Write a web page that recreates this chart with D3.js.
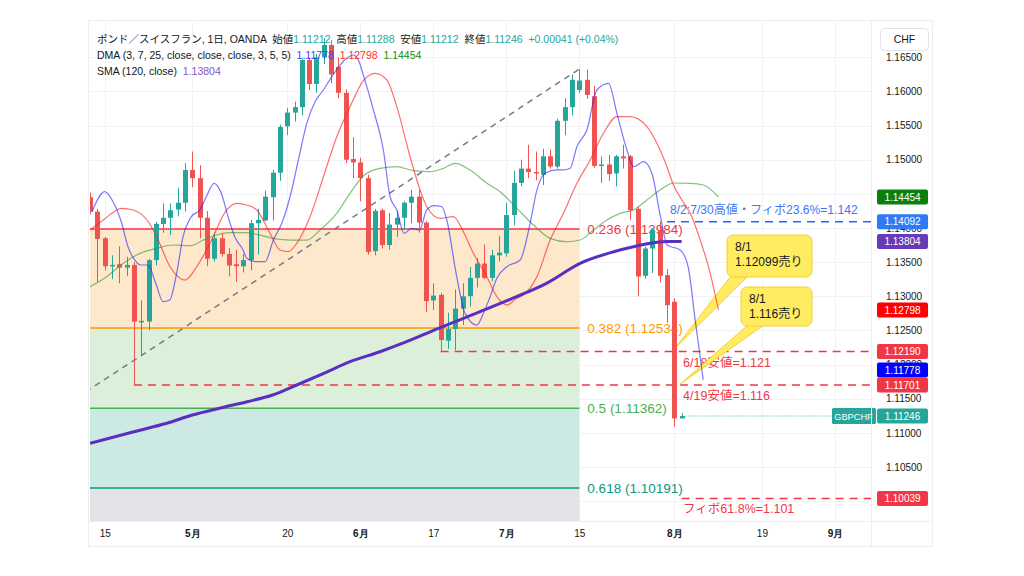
<!DOCTYPE html>
<html><head><meta charset="utf-8">
<script src="https://cdn.jsdelivr.net/npm/d3@7"></script>
<style>
html,body{margin:0;padding:0;background:#fff;}
svg{display:block;font-family:"Liberation Sans","Noto Sans CJK JP",sans-serif;}
text{white-space:pre;}
</style></head><body>
<svg id="c" width="1024" height="576"></svg>
<script>
// ---------------- DATA ----------------
const firstBar = -2; // bar index of first candle (0 = Apr 15)
const opens  = [1.1445,1.1424,1.1385,1.1344,1.1347,1.1342,1.1346,1.1262,1.1263,1.1353,1.1406,1.1415,1.1427,1.1437,1.1485,1.1473,1.1415,1.1355,1.1385,1.1362,1.1347,1.1344,1.1353,1.1407,1.1411,1.1445,1.1481,1.1549,1.1569,1.1577,1.1646,1.1611,1.1650,1.1668,1.1636,1.1598,1.1501,1.1496,1.1473,1.1366,1.1426,1.1375,1.1405,1.1415,1.1437,1.1446,1.1408,1.1294,1.1302,1.1235,1.1252,1.1282,1.1300,1.1327,1.1348,1.1327,1.1360,1.1363,1.1419,1.1466,1.1487,1.1482,1.1478,1.1505,1.1490,1.1557,1.1577,1.1602,1.1617,1.1593,1.1491,1.1493,1.1480,1.1505,1.1505,1.1428,1.1330,1.1370,1.1397,1.1331,1.1292,1.11212];
const highs  = [1.1452,1.1428,1.1387,1.1360,1.1373,1.1358,1.1350,1.1294,1.1355,1.1409,1.1436,1.1436,1.1459,1.1495,1.1512,1.1492,1.1425,1.1393,1.1392,1.1371,1.1368,1.1362,1.1412,1.1428,1.1455,1.1485,1.1551,1.1576,1.1585,1.1648,1.1649,1.1655,1.1678,1.1675,1.1650,1.1603,1.1533,1.1503,1.1478,1.1428,1.1428,1.1422,1.1425,1.1439,1.1456,1.1456,1.1410,1.1319,1.1305,1.1276,1.1310,1.1319,1.1343,1.1356,1.1376,1.1368,1.1388,1.1437,1.1484,1.1500,1.1522,1.1512,1.1516,1.1515,1.1560,1.1590,1.1625,1.16328,1.1632,1.1608,1.1505,1.1507,1.1507,1.1522,1.1507,1.1431,1.1373,1.1400,1.14092,1.1340,1.1297,1.11288];
const lows   = [1.1420,1.1321,1.1338,1.1325,1.1319,1.1330,1.11701,1.1214,1.1250,1.1345,1.1393,1.1390,1.1417,1.1424,1.1460,1.1385,1.1344,1.1351,1.1358,1.1329,1.1321,1.1335,1.1338,1.1361,1.1410,1.1411,1.1469,1.1536,1.1556,1.1565,1.1602,1.1598,1.1640,1.1612,1.1590,1.1495,1.1473,1.1439,1.1361,1.1360,1.1370,1.1368,1.1387,1.1397,1.1407,1.1393,1.1277,1.1280,1.1219,1.1223,1.1221,1.1258,1.1285,1.1313,1.1325,1.1322,1.1351,1.1358,1.1404,1.1461,1.1473,1.1470,1.1463,1.1487,1.1487,1.1536,1.1565,1.1598,1.1589,1.1488,1.1466,1.1469,1.1461,1.1487,1.1412,1.1300,1.1326,1.1334,1.1320,1.1261,1.1109,1.11212];
const closes = [1.1424,1.1384,1.1344,1.1346,1.1342,1.1346,1.1263,1.1264,1.1353,1.1406,1.1415,1.1426,1.1437,1.1485,1.1473,1.1415,1.1355,1.1385,1.1362,1.1345,1.1344,1.1353,1.1407,1.1412,1.1446,1.1481,1.1548,1.1569,1.1577,1.1646,1.1611,1.1650,1.1668,1.1625,1.1598,1.1500,1.1496,1.1473,1.1365,1.1425,1.1375,1.1405,1.1415,1.1437,1.1446,1.1408,1.1293,1.1301,1.1236,1.1252,1.1282,1.1300,1.1327,1.1348,1.1327,1.1360,1.1364,1.1419,1.1466,1.1487,1.1482,1.1480,1.1505,1.1490,1.1557,1.1577,1.1617,1.1616,1.1595,1.1491,1.1493,1.1479,1.1505,1.1502,1.1426,1.1329,1.1370,1.1397,1.1330,1.1287,1.11212,1.11246];

// DMA 3 (displaced 3) – blue
const dmaBlueIdx = [-1.74,0,1.14,2.27,3.19,4.11,5.01,5.93,7.07,7.99,8.9,9.81,10.73,11.86,13.01,13.92,14.97,15.97,16.89,17.81,18.95,19.45,20.59,21.96,23.1,24.25,25.38,26.52,27.67,28.81,29.95,31.1,32.23,33.15,34.05,34.74,35.42,36.8,38.16,39.08,40,41,42.05,43.1,44.1,45.1,46.16,46.85,48.12,49.36,50.96,51.86,52.78,53.7,55.07,56.89,58.26,59.18,60.32,61.92,62.82,63.74,64.66,66.03,67.4,68.99,70.14,71.51,72.42,73.78,74.93,76.07,77.03,78.81,79.9,80.86,81.96];
const dmaBlueVal = [1.14239,1.14532,1.14385,1.14092,1.13726,1.13531,1.13458,1.13458,1.13165,1.12921,1.12945,1.13312,1.13873,1.14166,1.14264,1.14458,1.14655,1.14508,1.14166,1.13873,1.13678,1.13556,1.13507,1.13507,1.13824,1.14069,1.14458,1.14996,1.15533,1.1585,1.16021,1.16216,1.16387,1.16485,1.16534,1.1646,1.1624,1.15728,1.15142,1.14458,1.14264,1.13922,1.13996,1.13971,1.14264,1.14327,1.14312,1.14117,1.13337,1.1275,1.12579,1.1275,1.12994,1.13264,1.13433,1.13531,1.14069,1.14556,1.14801,1.1485,1.1485,1.14874,1.15191,1.15435,1.16021,1.16119,1.1568,1.15142,1.14898,1.14971,1.14801,1.1419,1.13751,1.13678,1.13429,1.12653,1.11778];
// DMA 7 (displaced 5) – red
const dmaRedIdx = [-2.01,-0.19,2.33,3.92,5.97,7.12,8.95,11.0,12.6,14.42,16.71,18.08,19.45,20.82,22.64,24.01,25.15,26.3,28.12,29.95,31.78,33.6,35.42,37.03,38.63,40.0,41.82,43.19,44.11,45.93,47.75,49.12,50.49,52.33,53.7,55.07,56.44,57.34,59.18,61.0,62.82,64.66,66.48,68.3,70.14,71.96,74.25,75.62,76.99,77.89,79.04,80.18,81.55,82.92,84.05];
const dmaRedVal = [1.13971,1.14117,1.14289,1.14264,1.14092,1.13873,1.13433,1.13238,1.13433,1.13776,1.14264,1.14362,1.14337,1.14264,1.13922,1.13678,1.13653,1.13776,1.14165,1.14751,1.15337,1.15777,1.16157,1.16266,1.16168,1.15777,1.15044,1.14557,1.14312,1.14142,1.14166,1.13946,1.13629,1.13287,1.12994,1.12872,1.1297,1.13019,1.13287,1.13824,1.14215,1.14655,1.14996,1.15387,1.1563,1.1563,1.15484,1.1524,1.14898,1.1463,1.1441,1.14215,1.13824,1.13337,1.12798];
// DMA 25 (displaced 5) – green
const dmaGreenIdx = [-2.01,0.27,2.55,4.84,7.12,9.4,11.68,13.51,15.34,17.16,18.99,20.82,23.1,25.38,27.67,29.49,31.78,33.6,35.42,37.71,40.0,42.27,44.56,46.38,47.99,50.04,52.33,54.15,56.44,58.71,61.0,63.29,65.11,66.93,68.77,70.59,72.41,74.25,76.07,77.89,80.18,82.0,84.05];
const dmaGreenVal = [1.1314,1.13287,1.13483,1.13629,1.13703,1.13751,1.13741,1.13824,1.13897,1.13931,1.13931,1.13908,1.13849,1.13824,1.13824,1.13971,1.14215,1.14508,1.14762,1.14874,1.14898,1.14839,1.14825,1.14874,1.14948,1.14849,1.14655,1.14532,1.14288,1.14044,1.13849,1.13799,1.13824,1.13971,1.14117,1.14215,1.14264,1.1441,1.14557,1.14659,1.14655,1.1463,1.14454];
// SMA 120 – purple
const smaIdx = [-2,4,8.5,12,16,19.5,23,26.3,30,33.6,37.7,41,45.7,51.4,56.4,60.5,65.1,69.7,72.4,74.7,77,79];
const smaVal = [1.10847,1.11017,1.1114,1.11261,1.11368,1.11456,1.11554,1.11701,1.11872,1.12042,1.12188,1.1232,1.12531,1.12774,1.12994,1.1319,1.13483,1.13653,1.13726,1.13776,1.13801,1.13804];

// Fibonacci retracement
const fibStartBar = -77, fibEndBar = 65;
const fibHigh = 1.16328, fibLow = 1.06396;
const fibRatios = ["0.236","0.382","0.5","0.618"];
const fibValues = [1.13984,1.12534,1.11362,1.10191];
const fibNextValue = 1.08521; // 0.786 level (bottom of last band)
const fibColors = ["#f23645","#ff9800","#4caf50","#089981"];
const fibFills  = ["#fde8cb","#dcefdb","#cde9e3","#e2e3e6"];

// Horizontal lines (support levels)
const hLineValues = [1.1219,1.11701,1.10039];
const hLineStart  = [46,4,79];
const hLineTexts  = ["6/18安値=1.121","4/19安値=1.116","フィボ61.8%=1.101"];
const highLineValue = 1.14092, highLineStart = 77;
const highLineText = "8/2:7/30高値・フィボ23.6%=1.142";
const lastClose = 1.11246;

// Callouts
const calloutLines = [["8/1","1.12099売り"],["8/1","1.116売り"]];
const calloutTipBar = [78.1,78.8];
const calloutTipVal = [1.1224,1.11714];

// Axis ticks
const xTickIdx = [0,12,25,35,45,55,65,78,90,100];
const xTickLabels = ["15","5月","20","6月","17","7月","15","8月","19","9月"];
const priceTicks = [1.100,1.105,1.110,1.115,1.120,1.125,1.130,1.135,1.140,1.145,1.150,1.155,1.160,1.165];

// Right-axis badges
const badgeValues = [1.14454,1.14092,1.13804,1.12798,1.12190,1.11778,1.11701,1.11246,1.10039];
const badgeColors = ["#0a800a","#2f7af5","#673ab7","#ff0000","#f23645","#0000ff","#f23645","#26a69a","#f23645"];

// Legend
const legend1 = [["ポンド／スイスフラン, 1日, OANDA  ","#131722"],["始値","#131722"],["1.11212","#26a69a"],["  高値","#131722"],["1.11288","#26a69a"],["  安値","#131722"],["1.11212","#26a69a"],["  終値","#131722"],["1.11246","#26a69a"],["  +0.00041 (+0.04%)","#26a69a"]];
const legend2 = [["DMA (3, 7, 25, close, close, close, 3, 5, 5)  ","#131722"],["1.11778","#3d3dff"],["  ","#131722"],["1.12798","#ff3030"],["  ","#131722"],["1.14454","#138a13"]];
const legend3 = [["SMA (120, close)  ","#131722"],["1.13804","#7e57c2"]];

// ---------------- DRAW ----------------
const L = 90, R = 871, T = 22, B = 521;
const svg = d3.select("#c");
const x = d3.scaleLinear().domain([-2, 104.8]).range([90.1, 870]);
const y = d3.scaleLinear().domain([1.097092, 1.17017]).range([521, 22]);
const bw = 5;
const UP = "#26a69a", DN = "#ef5350";

svg.append("defs").append("clipPath").attr("id","plot")
  .append("rect").attr("x",L).attr("y",T).attr("width",R-L).attr("height",B-T);

// frame
svg.append("rect").attr("x",88.5).attr("y",20.5).attr("width",844).attr("height",526)
  .attr("fill","#fff").attr("stroke","#eceef2");

const plot = svg.append("g").attr("clip-path","url(#plot)");

// grid
plot.selectAll(".hg").data(priceTicks).join("line")
  .attr("x1",L).attr("x2",R).attr("y1",d=>Math.round(y(d))+0.5).attr("y2",d=>Math.round(y(d))+0.5)
  .attr("stroke","#f1f2f5");
plot.selectAll(".vg").data(xTickIdx).join("line")
  .attr("y1",T).attr("y2",B).attr("x1",d=>Math.round(x(d))+0.5).attr("x2",d=>Math.round(x(d))+0.5)
  .attr("stroke","#f1f2f5");

// fib bands
const bandTops = fibValues;
const bandBottoms = fibValues.slice(1).concat([fibNextValue]);
plot.selectAll(".band").data(bandTops).join("rect")
  .attr("x",x(fibStartBar)).attr("width",x(fibEndBar)-x(fibStartBar))
  .attr("y",d=>y(d)).attr("height",(d,i)=>y(bandBottoms[i])-y(d))
  .attr("fill",(d,i)=>fibFills[i]);
plot.selectAll(".fl").data(fibValues).join("line")
  .attr("x1",x(fibStartBar)).attr("x2",x(fibEndBar))
  .attr("y1",d=>y(d)).attr("y2",d=>y(d))
  .attr("stroke",(d,i)=>fibColors[i]).attr("stroke-width",1.5);
plot.selectAll(".ft").data(fibValues).join("text")
  .attr("x",x(fibEndBar)+8).attr("y",d=>y(d)+5)
  .attr("fill",(d,i)=>fibColors[i]).attr("font-size",13.5)
  .text((d,i)=>`${fibRatios[i]} (${d.toFixed(5)})`);
// trend diagonal
plot.append("line")
  .attr("x1",x(fibStartBar)).attr("y1",y(fibLow)).attr("x2",x(fibEndBar)).attr("y2",y(fibHigh))
  .attr("stroke","#787b86").attr("stroke-width",1.5).attr("stroke-dasharray","6,5");

// horizontal dashed support lines
plot.selectAll(".hl").data(hLineValues).join("line")
  .attr("x1",(d,i)=>x(hLineStart[i])).attr("x2",R)
  .attr("y1",d=>y(d)).attr("y2",d=>y(d))
  .attr("stroke","#f23645").attr("stroke-width",1.5).attr("stroke-dasharray","8,6");
plot.selectAll(".ht").data(hLineValues).join("text")
  .attr("x",x(79.2)).attr("y",d=>y(d)+15)
  .attr("fill","#f23645").attr("font-size",12.5)
  .text((d,i)=>hLineTexts[i]);
plot.append("line")
  .attr("x1",x(highLineStart)).attr("x2",R).attr("y1",y(highLineValue)).attr("y2",y(highLineValue))
  .attr("stroke","#2962ff").attr("stroke-width",1.5).attr("stroke-dasharray","8,6");
plot.append("text").attr("x",x(highLineStart)+3).attr("y",y(highLineValue)-8)
  .attr("fill","#3f76f5").attr("font-size",12.1).text(highLineText);
// last price dotted line
plot.append("line")
  .attr("x1",x(79)+4).attr("x2",R).attr("y1",y(lastClose)).attr("y2",y(lastClose))
  .attr("stroke","#26a69a").attr("stroke-width",1).attr("stroke-dasharray","1,2");

// callouts
const boxes = [{x0:727,y0:235,w:85,h:42,base:[731,748]},{x0:741,y0:287,w:71,h:39,base:[748,764]}];
const cg = plot.append("g");
boxes.forEach((b,i)=>{
  const tx = x(calloutTipBar[i]), ty = y(calloutTipVal[i]);
  const by = b.y0 + b.h - 1;
  cg.append("path")
    .attr("d",`M${b.base[0]},${by}L${tx},${ty}L${b.base[1]},${by}Z`)
    .attr("fill","#ffec60").attr("stroke","#f5cf2f").attr("stroke-width",1);
  cg.append("rect").attr("x",b.x0).attr("y",b.y0).attr("width",b.w).attr("height",b.h)
    .attr("rx",6).attr("fill","#ffec60").attr("stroke","#f5cf2f").attr("stroke-width",1);
  cg.append("path")
    .attr("d",`M${b.base[0]+1},${by-1}L${b.base[1]-1},${by-1}`)
    .attr("stroke","#ffec60").attr("stroke-width",2);
  calloutLines[i].forEach((t,j)=>{
    cg.append("text").attr("x",b.x0+8).attr("y",b.y0+16+j*15)
      .attr("fill","#131722").attr("font-size",12).text(t);
  });
});

// candles
const bars = opens.map((o,i)=>({i:firstBar+i,o,h:highs[i],l:lows[i],c:closes[i]}));
const cdl = plot.append("g");
cdl.selectAll(".wk").data(bars).join("line")
  .attr("x1",d=>Math.round(x(d.i))+0.5).attr("x2",d=>Math.round(x(d.i))+0.5)
  .attr("y1",d=>y(d.h)).attr("y2",d=>y(d.l))
  .attr("stroke",d=>d.c>=d.o?UP:DN).attr("stroke-width",1);
cdl.selectAll(".bd").data(bars).join("rect")
  .attr("x",d=>Math.round(x(d.i))-2).attr("width",bw)
  .attr("y",d=>y(Math.max(d.o,d.c))).attr("height",d=>Math.max(1.5,Math.abs(y(d.o)-y(d.c))))
  .attr("fill",d=>d.c>=d.o?UP:DN);

// moving averages
const lineGen = d3.line().x(d=>x(d[0])).y(d=>y(d[1])).curve(d3.curveMonotoneX);
function ma(idx,val,color,w,op){
  plot.append("path").datum(idx.map((v,i)=>[v,val[i]])).attr("d",lineGen)
    .attr("fill","none").attr("stroke",color).attr("stroke-width",w).attr("stroke-opacity",op);
}
ma(dmaGreenIdx,dmaGreenVal,"#2e9a2e",1.2,0.6);
ma(dmaRedIdx,dmaRedVal,"#ff2020",1.2,0.65);
ma(dmaBlueIdx,dmaBlueVal,"#2020ff",1.2,0.6);
ma(smaIdx,smaVal,"#5a2fbf",3,1);

// GBPCHF symbol label
svg.append("rect").attr("x",832).attr("y",y(lastClose)-8).attr("width",44).attr("height",16).attr("rx",1.5).attr("fill","#26a69a");
svg.append("text").attr("x",853.5).attr("y",y(lastClose)+3.5).attr("text-anchor","middle")
  .attr("fill","#fff").attr("font-size",9.2).text("GBPCHF");

// axes
svg.append("line").attr("x1",R+0.5).attr("x2",R+0.5).attr("y1",T-2).attr("y2",546).attr("stroke","#eceef2");
svg.append("line").attr("x1",L-2).attr("x2",932).attr("y1",B+0.5).attr("y2",B+0.5).attr("stroke","#eceef2");

const xa = svg.append("g").attr("transform",`translate(0,${B})`)
  .call(d3.axisBottom(x).tickValues(xTickIdx).tickFormat((d,i)=>xTickLabels[i]).tickSize(0).tickPadding(9));
xa.select(".domain").remove();
xa.selectAll("text").attr("font-size",10).attr("fill","#131722").attr("font-family",null)
  .attr("font-weight",(d,i)=>xTickLabels[i].includes("月")?"bold":"normal");

// badges with simple collision push-up
const bh = 15;
const bList = badgeValues.map((v,i)=>({v,c:badgeColors[i],yy:y(v)})).sort((a,b)=>a.yy-b.yy);
for(let k=bList.length-2;k>=0;k--){ if(bList[k].yy>bList[k+1].yy-bh) bList[k].yy=bList[k+1].yy-bh; }

// price axis: labels fully covered by a badge are not drawn
const visibleTicks = priceTicks.filter(t=>!bList.some(b=>Math.abs(b.yy-y(t))<5));
const ya = svg.append("g").attr("transform",`translate(880,0)`)
  .call(d3.axisRight(y).tickValues(visibleTicks).tickFormat(d3.format(".5f")).tickSize(0).tickPadding(6));
ya.select(".domain").remove();
ya.selectAll("text").attr("font-size",10).attr("fill","#131722").attr("font-family",null);

const bg = svg.append("g");
bg.selectAll("rect").data(bList).join("rect")
  .attr("x",877).attr("y",d=>d.yy-bh/2).attr("width",51).attr("height",bh).attr("rx",2)
  .attr("fill",d=>d.c);
bg.selectAll("text").data(bList).join("text")
  .attr("x",902.5).attr("y",d=>d.yy+3.6).attr("text-anchor","middle")
  .attr("fill","#fff").attr("font-size",10).text(d=>d.v.toFixed(5));

// CHF box
svg.append("rect").attr("x",880.5).attr("y",28.5).attr("width",48).attr("height",22).attr("rx",4)
  .attr("fill","#fff").attr("stroke","#e0e3eb");
svg.append("text").attr("x",904.5).attr("y",43).attr("text-anchor","middle").attr("font-size",10.5)
  .attr("fill","#131722").text("CHF");

// legend
function legendLine(parts,yy){
  const t = svg.append("text").attr("x",97).attr("y",yy).attr("font-size",10.5);
  parts.forEach(p=>t.append("tspan").attr("fill",p[1]).text(p[0]));
}
legendLine(legend1,42.5);
legendLine(legend2,58.5);
legendLine(legend3,74.5);
</script></body></html>
